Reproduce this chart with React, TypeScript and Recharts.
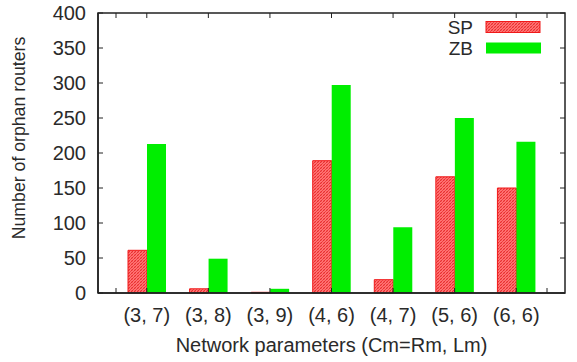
import React from "react";
import { BarChart, Bar, XAxis, YAxis } from "recharts";

// Network parameter combinations (Cm=Rm, Lm)
const categories = ["(3, 7)", "(3, 8)", "(3, 9)", "(4, 6)", "(4, 7)", "(5, 6)", "(6, 6)"];
const spValues = [61, 6, 1, 189, 19, 166, 150];
const zbValues = [213, 49, 6, 297, 94, 250, 216];
const yTicks = [0, 50, 100, 150, 200, 250, 300, 350, 400];
const seriesNames = ["SP", "ZB"];

const data = categories.map((name, i) => ({ name, SP: spValues[i], ZB: zbValues[i] }));

const FONT = "'Liberation Sans', Arial, sans-serif";
const TEXT = "#2a2a2a";
const FRAME = "#222";
const RED = "#f01818";
const GREEN = "#00ee00";

// chart layout
const W = 577;
const H = 362;
const TOP = 13;
const Y_AXIS_W = 98;
const RIGHT = 12;
const X_AXIS_H = 69;
const X_PAD = 18;
const Y_MAX = 400;
const TICK = 5;

const HatchDefs = () => (
  <defs>
    <pattern id="hatchSP" width="3" height="3" patternUnits="userSpaceOnUse">
      <rect width="3" height="3" fill="#ff7474" />
      <path d="M0,3 L3,0" stroke="#e83030" strokeWidth="1" />
      <path d="M0,0 L3,3" stroke="#f55050" strokeWidth="0.6" />
    </pattern>
  </defs>
);

// border box with inward ticks on the top and right edges, laid over the chart
const Border = () => {
  const left = Y_AXIS_W;
  const right = W - RIGHT;
  const top = TOP;
  const bottom = H - X_AXIS_H;
  const start = left + X_PAD;
  const end = right - X_PAD;
  const band = (end - start) / categories.length;
  const xs = [start, ...categories.map((_, i) => start + band * (i + 0.5)), end];
  const ys = yTicks.map((v) => bottom - (v / Y_MAX) * (bottom - top));
  return (
    <svg
      width={W}
      height={H}
      style={{ position: "absolute", left: 0, top: 0, pointerEvents: "none" }}
    >
      <g stroke={FRAME} fill="none">
        <rect x={left} y={top} width={right - left} height={bottom - top} strokeWidth={1.5} />
        {xs.map((x, i) => (
          <line key={`t${i}`} x1={x} x2={x} y1={top} y2={top + TICK} strokeWidth={1} />
        ))}
        {[xs[0], xs[xs.length - 1]].map((x, i) => (
          <line key={`b${i}`} x1={x} x2={x} y1={bottom} y2={bottom - TICK} strokeWidth={1} />
        ))}
        {ys.map((y, i) => (
          <line key={`r${i}`} x1={right} x2={right - TICK} y1={y} y2={y} strokeWidth={1} />
        ))}
      </g>
    </svg>
  );
};

// key in the upper-right corner of the plot
const Key = () => (
  <g fontFamily={FONT} fontSize={19} fill={TEXT}>
    <text x={473} y={27} textAnchor="end" dominantBaseline="central">
      {seriesNames[0]}
    </text>
    <rect x={486} y={21.5} width={54} height={11} fill="url(#hatchSP)" stroke={RED} strokeWidth={1} />
    <text x={473} y={48.5} textAnchor="end" dominantBaseline="central">
      {seriesNames[1]}
    </text>
    <rect x={486} y={42.5} width={55} height={11} fill={GREEN} />
  </g>
);

const YTitle = () => {
  const cx = 19;
  const cy = 138;
  return (
    <text
      x={cx}
      y={cy}
      transform={`rotate(-90 ${cx} ${cy})`}
      textAnchor="middle"
      dominantBaseline="central"
      fontFamily={FONT}
      fontSize={17.7}
      fill={TEXT}
    >
      Number of orphan routers
    </text>
  );
};

const XTitle = (props: any) => {
  const vb = props.viewBox || { x: Y_AXIS_W, y: H - X_AXIS_H, width: W - RIGHT - Y_AXIS_W, height: X_AXIS_H };
  return (
    <text
      x={vb.x + vb.width / 2}
      y={345}
      textAnchor="middle"
      dominantBaseline="central"
      fontFamily={FONT}
      fontSize={20}
      fill={TEXT}
    >
      Network parameters (Cm=Rm, Lm)
    </text>
  );
};

export default function App() {
  return (
    <div style={{ position: "absolute", left: 0, top: 0, width: W, height: H, background: "#fff" }}>
      <BarChart
        width={W}
        height={H}
        data={data}
        margin={{ top: TOP, right: RIGHT, bottom: 0, left: 0 }}
        barGap={0}
        barSize={19}
      >
        <HatchDefs />
        <XAxis
          dataKey="name"
          orientation="bottom"
          height={X_AXIS_H}
          padding={{ left: X_PAD, right: X_PAD }}
          axisLine={{ stroke: FRAME, strokeWidth: 1.5 }}
          tickLine={{ stroke: FRAME }}
          tickSize={-TICK}
          tickMargin={20}
          tick={{ fontFamily: FONT, fontSize: 20, fill: TEXT }}
          interval={0}
          label={<XTitle />}
        />
        <YAxis
          width={Y_AXIS_W}
          domain={[0, Y_MAX]}
          ticks={yTicks}
          interval={0}
          axisLine={{ stroke: FRAME, strokeWidth: 1.5 }}
          tickLine={{ stroke: FRAME }}
          tickSize={-TICK}
          tickMargin={17}
          tick={{ fontFamily: FONT, fontSize: 20, fill: TEXT }}
          label={<YTitle />}
        />
        <Bar dataKey="SP" fill="url(#hatchSP)" stroke={RED} strokeWidth={1} isAnimationActive={false} />
        <Bar dataKey="ZB" fill={GREEN} isAnimationActive={false} />
        <Key />
      </BarChart>
      <Border />
    </div>
  );
}
